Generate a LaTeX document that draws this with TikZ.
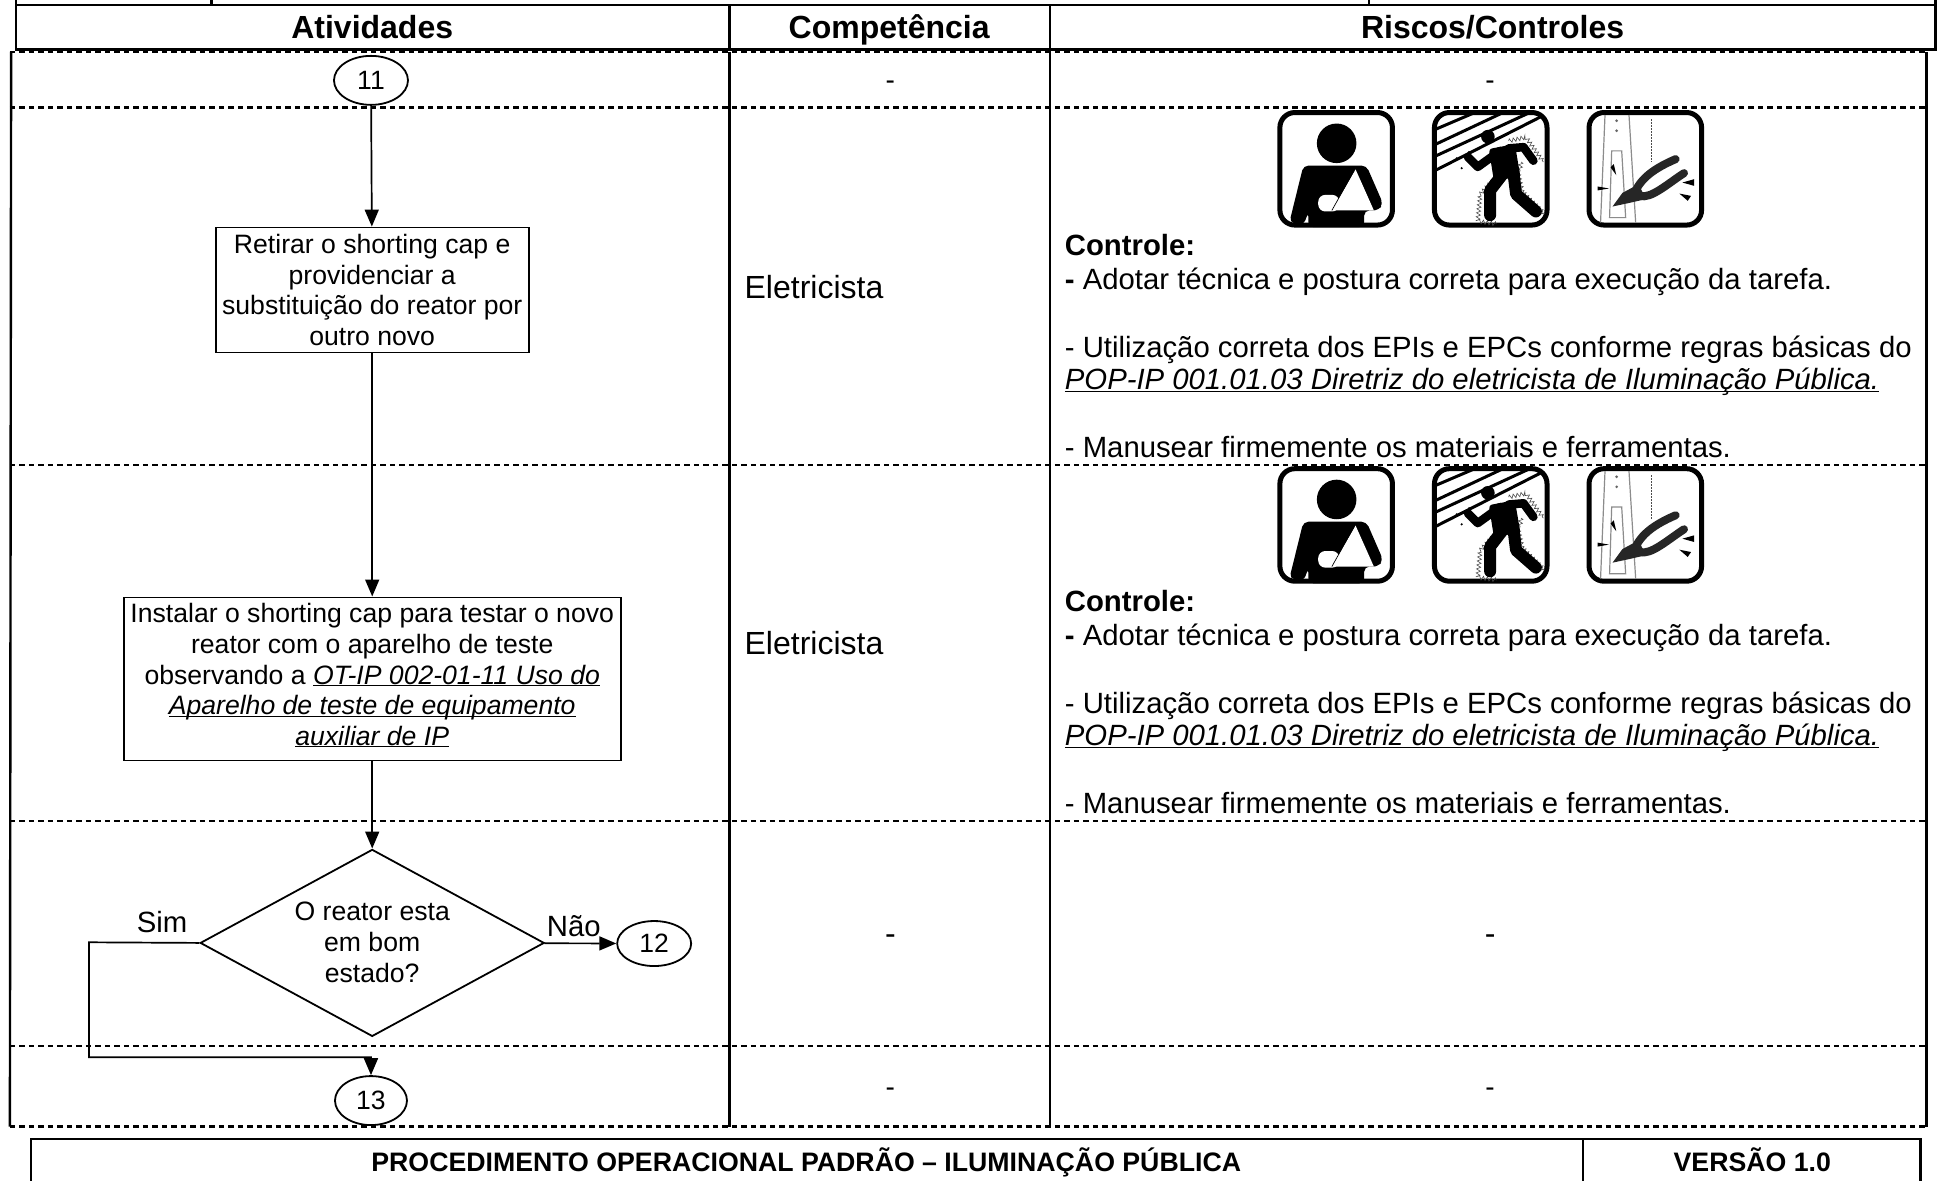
\documentclass[tikz,border=0pt]{standalone}
\usepackage{fontspec}
\setmainfont{Liberation Sans}
\usetikzlibrary{arrows.meta,shapes.geometric,decorations.pathmorphing}
\newcommand{\fs}[2]{\fontsize{#1}{#2}\selectfont}
\newcommand{\lineunder}[1]{\underline{\smash{#1}}}
\tikzset{
  solidrule/.style={line width=2.4pt,black},
  dashrule/.style={line width=2.3pt,black,dash pattern=on 5.5pt off 4pt},
  headtext/.style={font=\fs{32}{36}\bfseries,inner sep=0pt,anchor=base},
  bodytext/.style={font=\fs{29.3}{34},inner sep=0pt,anchor=base west},
  roletext/.style={font=\fs{32}{36},inner sep=0pt,anchor=west},
  foottext/.style={font=\fs{26.7}{30}\bfseries,inner sep=0pt,anchor=base},
  boxtext/.style={font=\fs{26.6}{30.6},inner sep=0pt,align=center},
  procbox/.style={draw,line width=1.8pt,fill=white,inner sep=0pt,boxtext},
  termnode/.style={draw,ellipse,line width=1.8pt,fill=white,inner sep=0pt,font=\fs{26.5}{30}},
  flow/.style={line width=1.7pt,-{Triangle[length=17pt,width=14pt]}},
  dashsmall/.style={font=\fs{28}{30},inner sep=0pt},
  dashbig/.style={font=\fs{32}{36},inner sep=0pt},
  edgelabel/.style={font=\fs{29.3}{32},inner sep=0pt},
  iconframe/.style={draw,line width=5pt,rounded corners=15pt,fill=white},
  spark/.style={draw=black!70,line width=.6pt,decorate,decoration={zigzag,segment length=4pt,amplitude=2pt}},
  armicon/.pic={
    \path[iconframe] (2,2) rectangle (93,93);
    \fill (47.9,26.9) circle (16);
    \fill[rounded corners=5pt] (21,44.9) -- (72,44.9) -- (85.5,75.9) -- (81.5,81.2) -- (70.2,81.2) -- (70.2,94.7) -- (25,94.7) -- (25,82.6) -- (21,93.3) -- (9.7,90.7) -- cycle;
    \fill[white] (63.2,48) -- (78,81.2) -- (44,81.2) -- cycle;
    \fill[white,rounded corners=7pt] (50,68.6) -- (33,68.6) -- (33,82) -- (50,82) -- cycle;
    \draw[line width=.7pt] (62,49) -- (44,81.2);
  },
  shockicon/.pic={
    \path[iconframe] (2,2) rectangle (93,93);
    \begin{scope}[line width=3pt]
      \draw (3.5,15.3) -- (35.8,1.5);
      \draw (3.5,27.4) -- (58.6,1.5);
      \draw (3.5,36.9) -- (80.2,1.5);
      \draw (3.5,48.4) -- (89.6,4.6);
    \end{scope}
    \path[spark] (50,56) -- (39,68) -- (37,90) -- (52,92);
    \path[spark] (70,52) -- (73,66) -- (91,84);
    \path[spark] (62,25) -- (76,22) -- (90,42);
    \path[spark] (72,42) -- (71,50);
    \fill (45.2,21.5) circle (5.5);
    \fill[rounded corners=3pt] (46,31.5) -- (67,27.5) -- (71.5,54) -- (50,57) -- cycle;
    \begin{scope}[line cap=round,line join=round]
      \draw[line width=8.5pt] (55,33) -- (37,46) -- (29,38);
      \draw[line width=8.5pt] (62,31) -- (74,30) -- (82,41);
      \draw[line width=12pt] (57,52) -- (47,65) -- (47,85);
      \draw[line width=12pt] (66,52) -- (68,68) -- (84,82);
    \end{scope}
    \fill (20,39) circle (1) (30,34) circle (1) (24,47) circle (1);
  },
  plieraicon/.pic={
    \path[iconframe] (2,2) rectangle (93,93);
    \begin{scope}[draw=black!45,line width=1.2pt]
      \draw (14.9,4) -- (11.3,91);
      \draw (34.3,4) -- (39.7,91);
      \draw (20.3,33) -- (28.4,33) -- (31.6,87) -- (18.6,87) -- cycle;
    \end{scope}
    \fill[black!60] (24.3,8.6) circle (1.2) (24.3,16.7) circle (1.2);
    \draw[black!70,line width=1.2pt,dash pattern=on 1.5pt off 1.5pt] (52.4,7.3) -- (52.4,42.4);
    \begin{scope}[line cap=round,draw=black!85,line width=8pt]
      \draw (39,66.7) .. controls (44,55) and (55,47) .. (72,39.7);
      \draw (43,69.4) .. controls (52,72) and (65,60) .. (78.8,51);
    \end{scope}
    \fill[black!85] (21,78) -- (29,67) -- (42,60) -- (48,72) -- (35,75) -- cycle;
    \fill (19.4,46.4) -- (22,43.7) -- (24,52.6) -- cycle;
    \fill (8.9,61.8) -- (18.1,63.4) -- (8.9,65) -- cycle;
    \fill (77.5,58.6) -- (87,55.9) -- (87,61.3) -- cycle;
    \fill (75,67.5) -- (84.5,69.4) -- (81.8,73.4) -- cycle;
  }
}
\begin{document}
\begin{tikzpicture}[x=1.2366pt,y=-1.2366pt]
\useasboundingbox (0,0) rectangle (1568,955);
% header frame
\draw[solidrule] (13,0) -- (13,40) -- (1565,40) -- (1565,0);
\draw[solidrule] (13,4) -- (1565,4);
\draw[solidrule] (171,0) -- (171,4);
\draw[solidrule] (1107,0) -- (1107,4);
\draw[solidrule] (590,4) -- (590,40);
\draw[solidrule] (849,4) -- (849,40);
\node[headtext] (hatv) at (301,31) {Atividades};
\node[headtext] (hcmp) at (719,31) {Competência};
\node[headtext] (hris) at (1207,31) {Riscos/Controles};
% table
\draw[solidrule] (9,42) -- (8,911);
\draw[solidrule] (1558,42) -- (1558,911);
\draw[solidrule] (590,42) -- (590,911);
\draw[solidrule] (849,42) -- (849,911);
\foreach \yy in {42,87,376,664,846,911}
  \draw[dashrule] (8,\yy) -- (1558,\yy);
% row dashes
\node[dashsmall] (d1a) at (720,69) {-};
\node[dashsmall] (d1b) at (1205,69) {-};
\node[dashbig] (d3a) at (720,760) {-};
\node[dashbig] (d3b) at (1205,760) {-};
\node[dashsmall] (d4a) at (720,883) {-};
\node[dashsmall] (d4b) at (1205,883) {-};
\node[roletext] (r1) at (602,232) {Eletricista};
\node[roletext] (r2) at (602,520) {Eletricista};
% controls
\foreach \oo/\nn in {0/a,288/b}{
  \node[bodytext,font=\fs{29.3}{34}\bfseries] (c\nn0) at (861,206.5+\oo) {Controle:};
  \node[bodytext] (c\nn1) at (861,234+\oo) {\textbf{-} Adotar técnica e postura correta para execução da tarefa.};
  \node[bodytext] (c\nn2) at (861,289+\oo) {- Utilização correta dos EPIs e EPCs conforme regras básicas do};
  \node[bodytext] (c\nn3) at (861,315+\oo) {\textit{\lineunder{POP-IP 001.01.03 Diretriz do eletricista de Iluminação Pública.}}};
  \node[bodytext] (c\nn4) at (861,370+\oo) {- Manusear firmemente os materiais e ferramentas.};
  \pic at (1033,90+\oo-1) {armicon};
  \pic at (1158,90+\oo-1) {shockicon};
  \pic at (1283,90+\oo-1) {plieraicon};
}
% flowchart
\node[termnode,minimum width=74pt,minimum height=49pt] (t11) at (300,65) {11};
\node[procbox,minimum width=313pt,minimum height=125pt] (b1) at (301,234.5)
  {Retirar o shorting cap e\\providenciar a\\substituição do reator por\\outro novo};
\node[procbox,minimum width=497pt,minimum height=163pt,text depth=9pt] (b2) at (301,549)
  {Instalar o shorting cap para testar o novo\\reator com o aparelho de teste\\observando a \textit{\lineunder{OT-IP 002-01-11 Uso do}}\\\textit{\lineunder{Aparelho de teste de equipamento}}\\\textit{\lineunder{auxiliar de IP}}};
\node[diamond,draw,line width=1.8pt,fill=white,inner sep=0pt,minimum width=344pt,minimum height=187pt] (dec) at (301,762.5) {};
\node[boxtext] (dectext) at (301,762) {O reator esta\\em bom\\estado?};
\node[termnode,minimum width=74pt,minimum height=45pt] (t12) at (529,763) {12};
\node[termnode,minimum width=72pt,minimum height=49pt] (t13) at (300,890) {13};
\node[edgelabel] (lsim) at (131,746) {Sim};
\node[edgelabel] (lnao) at (464,749) {Não};
\draw[flow] (t11) -- (b1);
\draw[flow] (b1) -- (b2);
\draw[flow] (b2) -- (dec);
\draw[flow] (dec) -- (t12);
\coordinate (k1) at (72,762);
\coordinate (k2) at (72,855);
\coordinate (k3) at (300,855);
\draw[flow] (dec.west) -- (k1) -- (k2) -- (k3) -- (t13.north);
% footer
\draw[solidrule] (25,955) -- (25,921) -- (1553,921) -- (1553,955);
\draw[solidrule] (1280,921) -- (1280,955);
\node[foottext] (f1) at (652,947.3) {PROCEDIMENTO OPERACIONAL PADRÃO – ILUMINAÇÃO PÚBLICA};
\node[foottext] (f2) at (1417,947.3) {VERSÃO 1.0};
\end{tikzpicture}
\end{document}
